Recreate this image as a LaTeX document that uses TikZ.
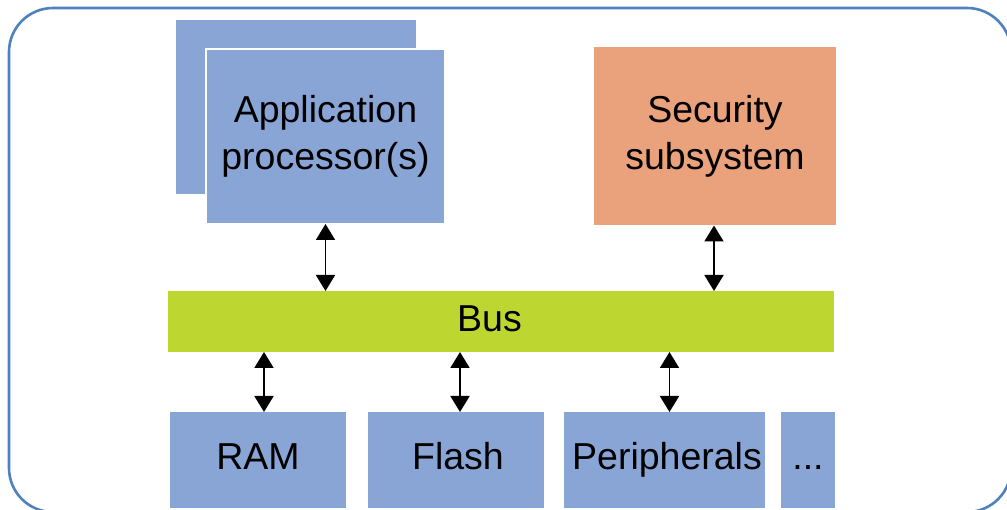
\documentclass[tikz,border=0pt]{standalone}
\usepackage{fontspec}
\setmainfont{Liberation Sans}
\usetikzlibrary{arrows.meta}

\definecolor{frameblue}{RGB}{79,129,189}
\definecolor{blockblue}{RGB}{137,165,214}
\definecolor{secorange}{RGB}{234,162,124}
\definecolor{busgreen}{RGB}{190,214,48}

\tikzset{
  block/.style={rectangle, inner sep=0pt, outer sep=0pt, fill=blockblue,
    align=center, font=\fontsize{37.5}{47}\selectfont},
  oneline/.style={text height=27pt, text depth=7pt},
  biarrow/.style={line width=1.9pt, {Triangle[width=19pt,length=16pt]}-{Triangle[width=19pt,length=16pt]}},
}

\begin{document}
\begin{tikzpicture}[x=1pt,y=-1pt]
  \useasboundingbox (0,0) rectangle (1007,510);
  \clip (0,0) rectangle (1007,510);

  % system frame
  \draw[frameblue, line width=2.6pt, rounded corners=44pt] (9,8) rectangle (1011,512);

  % application processors (stacked)
  \node[block, minimum width=240pt, minimum height=174pt] (appback) at (296,107) {};
  \node[block, draw=white, line width=1.5pt, minimum width=239pt, minimum height=175pt]
    (app) at (325.5,136.5) {Application\\processor(s)};

  % security subsystem
  \node[block, fill=secorange, minimum width=242pt, minimum height=178pt]
    (sec) at (715,136.5) {Security\\subsystem};

  % interconnect
  \node[block, oneline, fill=busgreen, minimum width=666pt, minimum height=61pt]
    (bus) at (501,321.5) {Bus\hspace*{23pt}};

  % memories and peripherals
  \node[block, oneline, minimum width=176pt, minimum height=96pt] (ram) at (258,460) {RAM};
  \node[block, oneline, minimum width=176pt, minimum height=96pt] (flash) at (456,460) {\hspace*{4pt}Flash};
  \node[block, oneline, minimum width=201pt, minimum height=96pt] (periph) at (664.5,460) {\hspace*{5pt}Peripherals};
  \node[block, oneline, minimum width=54pt, minimum height=96pt] (more) at (808,460) {...};

  % connections to the bus
  \draw[biarrow] (app.south) -- (app.south |- bus.north);
  \draw[biarrow] ([xshift=-1pt]sec.south) -- ([xshift=-1pt]sec.south |- bus.north);
  \draw[biarrow] ([xshift=6pt]ram.north) -- ([xshift=6pt]ram.north |- bus.south);
  \draw[biarrow] ([xshift=4pt]flash.north) -- ([xshift=4pt]flash.north |- bus.south);
  \draw[biarrow] ([xshift=5pt]periph.north) -- ([xshift=5pt]periph.north |- bus.south);
\end{tikzpicture}
\end{document}
